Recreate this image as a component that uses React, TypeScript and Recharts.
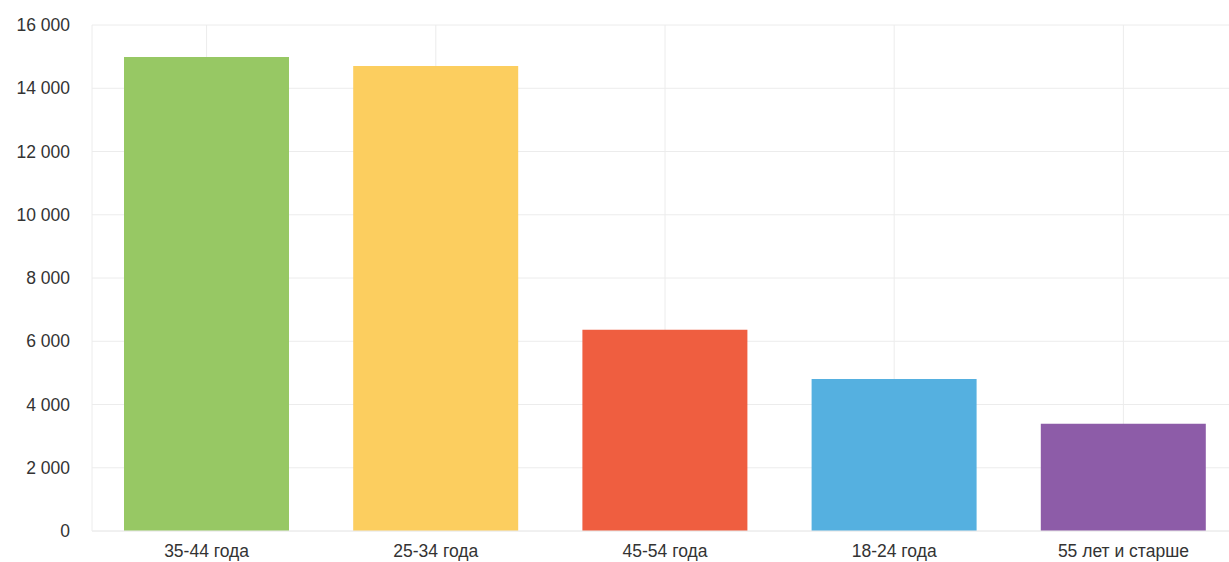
import { Bar, BarChart, CartesianGrid, Cell, XAxis, YAxis } from "recharts";

const groups = ["35-44 года", "25-34 года", "45-54 года", "18-24 года", "55 лет и старше"];
const users = [14990, 14700, 6360, 4810, 3390];
const colors = ["#97c864", "#fcce5f", "#ef5e40", "#55b0e0", "#8d5ca8"];
const yTicks = [0, 2000, 4000, 6000, 8000, 10000, 12000, 14000, 16000];

const data = groups.map((group, index) => ({ group, users: users[index] }));

function formatThousands(value: number) {
  return value === 0 ? "0" : `${Math.floor(value / 1000)} ${String(value % 1000).padStart(3, "0")}`;
}

const tickStyle = { fill: "#333", fontSize: 17.5, fontFamily: "Liberation Sans, Arial, sans-serif" };

export default function App() {
  return (
    <div style={{ position: "absolute", left: 0, top: 0, width: 1229, height: 562, overflow: "hidden", background: "#fff" }}>
      <BarChart width={1238} height={562} data={data} margin={{ top: 25, right: 0, bottom: 0, left: 0 }}>
        <CartesianGrid stroke="#ececec" />
        <XAxis
          dataKey="group"
          height={31}
          tickSize={0}
          tickMargin={14}
          axisLine={{ stroke: "#ececec" }}
          tick={tickStyle}
          interval={0}
        />
        <YAxis
          width={92}
          domain={[0, 16000]}
          ticks={yTicks}
          tickSize={0}
          tickMargin={22}
          axisLine={false}
          tickFormatter={formatThousands}
          tick={tickStyle}
        />
        <Bar dataKey="users" barSize={165} isAnimationActive={false}>
          {data.map((entry, index) => (
            <Cell key={entry.group} fill={colors[index]} />
          ))}
        </Bar>
      </BarChart>
    </div>
  );
}
